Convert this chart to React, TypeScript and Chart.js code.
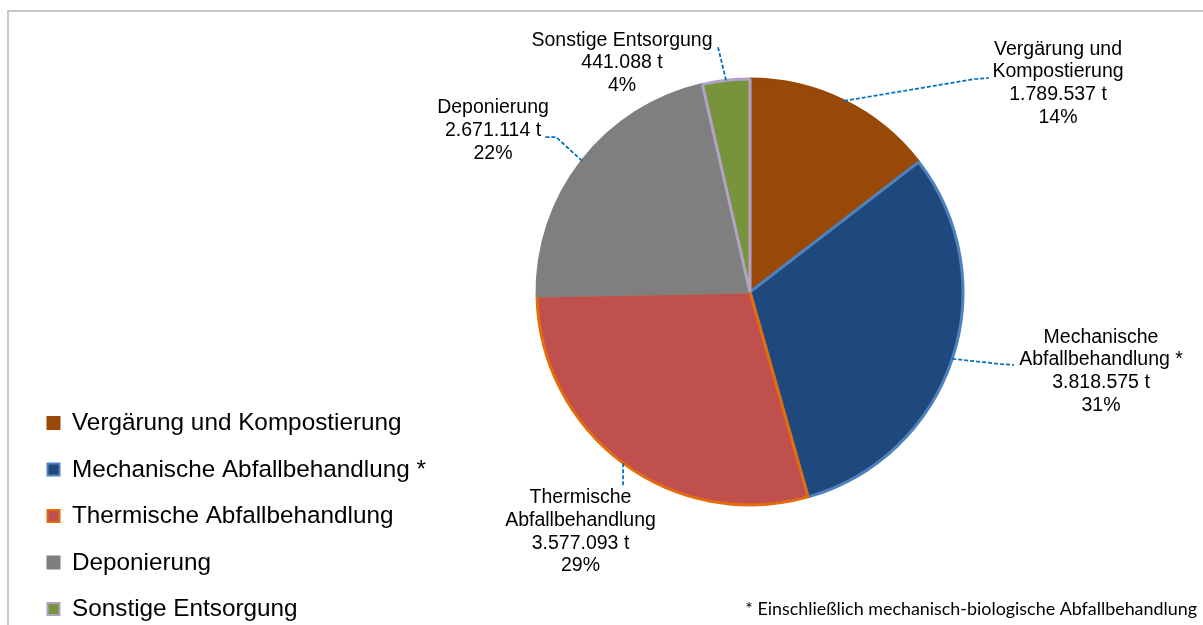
import React, { useEffect, useRef } from 'react';
import { Chart, registerables } from 'chart.js';

Chart.register(...registerables);

// ---- data ----
const categories = [
  'Vergärung und Kompostierung',
  'Mechanische Abfallbehandlung *',
  'Thermische Abfallbehandlung',
  'Deponierung',
  'Sonstige Entsorgung',
];
const tonnes = [1789537, 3818575, 3577093, 2671114, 441088];
const percentLabels = ['14%', '31%', '29%', '22%', '4%'];
const labelNameLines = [
  ['Vergärung und', 'Kompostierung'],
  ['Mechanische', 'Abfallbehandlung *'],
  ['Thermische', 'Abfallbehandlung'],
  ['Deponierung'],
  ['Sonstige Entsorgung'],
];
const footnote = '* Einschließlich mechanisch-biologische Abfallbehandlung';

// ---- styles ----
const fillColors = ['#984807', '#1F497D', '#C0504D', '#7F7F7F', '#77933C'];
const borderColors = ['#984807', '#4F81BD', '#E46C0A', '#7F7F7F', '#B3A2C7'];
const FONT = '"Liberation Sans", Arial, sans-serif';

// label placement (centre of first text line) and leader-line path end points
const labelPlacement = [
  { x: 1058, y: 49.5, path: [[975, 79], [989, 78]] },
  { x: 1101, y: 337.5, path: [[1000, 364], [1014, 365]] },
  { x: 580.5, y: 498, path: [[623, 487]] },
  { x: 493, y: 108, path: [[556, 137], [545, 137]] },
  { x: 622, y: 40.5, path: [[718, 47]] },
];

const formatTonnes = (v: number) =>
  String(v).replace(/\B(?=(\d{3})+(?!\d))/g, '.') + ' t';

const overlayPlugin = {
  id: 'overlay',
  beforeDraw(chart: any) {
    const ctx = chart.ctx;
    ctx.save();
    ctx.fillStyle = '#ffffff';
    ctx.fillRect(0, 0, chart.width, chart.height);
    ctx.strokeStyle = '#C8C8C8';
    ctx.lineWidth = 2;
    ctx.strokeRect(8, 11, chart.width + 20, chart.height + 20);
    ctx.restore();
  },
  afterDraw(chart: any) {
    const ctx = chart.ctx;
    const meta = chart.getDatasetMeta(0);
    ctx.save();
    // data labels + leader lines
    meta.data.forEach((arc: any, i: number) => {
      const p = arc.getProps(['x', 'y', 'startAngle', 'endAngle', 'outerRadius'], true);
      const mid = (p.startAngle + p.endAngle) / 2;
      const sx = p.x + Math.cos(mid) * p.outerRadius;
      const sy = p.y + Math.sin(mid) * p.outerRadius;
      const place = labelPlacement[i];
      ctx.strokeStyle = '#0070C0';
      ctx.lineWidth = 1.75;
      ctx.setLineDash([4, 2]);
      ctx.beginPath();
      ctx.moveTo(sx, sy);
      place.path.forEach(([px, py]) => ctx.lineTo(px, py));
      ctx.stroke();
      ctx.setLineDash([]);

      const lines = [...labelNameLines[i], formatTonnes(tonnes[i]), percentLabels[i]];
      ctx.fillStyle = '#000000';
      ctx.font = `19.5px ${FONT}`;
      ctx.textAlign = 'center';
      ctx.textBaseline = 'middle';
      lines.forEach((t, k) => ctx.fillText(t, place.x, place.y + k * 22.6));
    });

    // legend
    ctx.font = `24.3px ${FONT}`;
    ctx.textAlign = 'left';
    ctx.textBaseline = 'middle';
    categories.forEach((c, i) => {
      const cy = 422.5 + i * 46.5;
      ctx.fillStyle = borderColors[i];
      ctx.fillRect(46.5, cy - 6.5, 14, 14);
      ctx.fillStyle = fillColors[i];
      ctx.fillRect(48.5, cy - 4.5, 10, 10);
      ctx.fillStyle = '#000000';
      ctx.fillText(c, 72, cy + 1);
    });

    // footnote
    let size = 16;
    ctx.font = `${size}px Lato, "Open Sans", sans-serif`;
    const w = ctx.measureText(footnote).width;
    size = (size * 452) / w;
    ctx.font = `${size}px Lato, "Open Sans", sans-serif`;
    ctx.textAlign = 'right';
    ctx.fillStyle = '#000000';
    ctx.fillText(footnote, 1197, 609);
    ctx.restore();
  },
};

export default function App() {
  const ref = useRef<HTMLCanvasElement>(null);
  useEffect(() => {
    document.body.style.margin = '0';
    const chart = new Chart(ref.current!, {
      type: 'pie',
      data: {
        labels: categories,
        datasets: [
          {
            data: tonnes,
            backgroundColor: fillColors,
            borderColor: borderColors,
            borderWidth: 3,
            hoverOffset: 0,
            offset: 0,
          },
        ],
      },
      options: {
        responsive: false,
        animation: false,
        devicePixelRatio: 1,
        radius: 213,
        layout: { padding: { left: 536, right: 239, top: 78, bottom: 119 } },
        plugins: {
          legend: { display: false },
          tooltip: { enabled: false },
        },
        events: [],
      } as any,
      plugins: [overlayPlugin],
    });
    return () => chart.destroy();
  }, []);
  return (
    <div style={{ position: 'fixed', left: 0, top: 0, width: 1203, height: 625, background: '#fff' }}>
      <canvas ref={ref} width={1203} height={625} style={{ width: 1203, height: 625, display: 'block' }} />
    </div>
  );
}
